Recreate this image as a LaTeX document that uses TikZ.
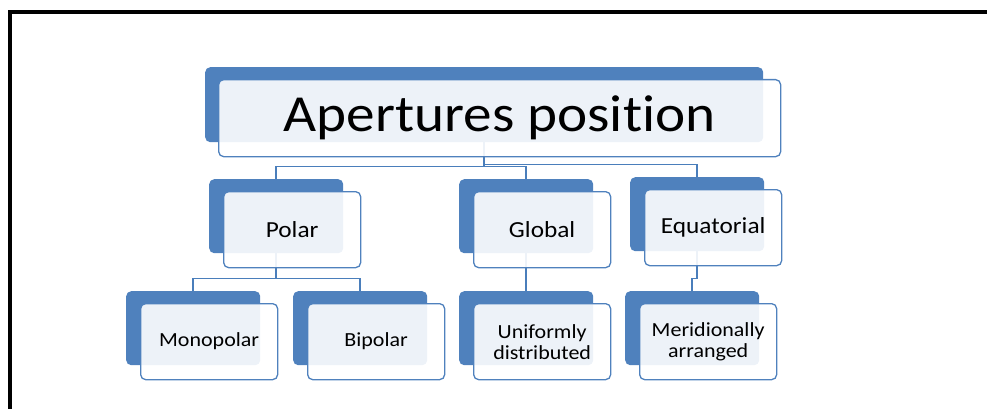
\documentclass[tikz,border=0pt]{standalone}
\usepackage{fontspec}
\setmainfont[FakeStretch=1.1, Ligatures={NoCommon,NoContextual},
  Contextuals=NoAlternate]{Carlito}
\definecolor{cardblue}{HTML}{4F81BD}
\definecolor{linkblue}{HTML}{4A7EBB}

\tikzset{
  backcard/.style={fill=cardblue, rounded corners=5pt, anchor=north west,
    inner sep=0pt, minimum width=134pt, minimum height=74pt},
  frontcard/.style={draw=cardblue, line width=1.3pt, fill=white, fill opacity=0.9,
    text opacity=1, rounded corners=5pt, anchor=north west, inner sep=0pt,
    align=center, minimum width=137pt, minimum height=76pt},
  conn/.style={draw=linkblue, line width=1.7pt},
  lvltwo/.style={font=\fontsize{23}{25}\selectfont},
  lvlthree/.style={font=\fontsize{20}{21}\selectfont},
}

\begin{document}
\begin{tikzpicture}[x=1pt,y=-1pt]
\useasboundingbox (0,0) rectangle (987,409);
\clip (0,0) rectangle (987,409);

% frame
\draw[line width=4pt] (9.5,420) -- (9.5,12) -- (1000,12);

% back cards
\node[backcard, minimum width=558pt, minimum height=75pt] (titleb) at (205,67) {};
\foreach \name/\bx/\by in {polar/209/179, global/459/179, equat/630/177,
                          mono/126/291, bip/293/291, unif/459/291, merid/625/291}
  \node[backcard] (\name b) at (\bx,\by) {};

% links
\draw[conn] (titleb.south) -- ++(0,24) -| (polarb.north);
\draw[conn] (titleb.south) -- ++(0,24) -| (globalb.north);
\draw[conn] (titleb.south) -- ++(0,22) -| (equatb.north);
\draw[conn] (polarb.south) -- ++(0,25) -| (monob.north);
\draw[conn] (polarb.south) -- ++(0,25) -| (bipb.north);
\draw[conn] (globalb.south) -- (unifb.north);
\draw[conn] (equatb.south) -- ++(0,27) -| (meridb.north);

% front cards
\node[frontcard, minimum width=562pt, minimum height=77pt,
      font=\fontsize{52}{56}\selectfont] (title) at (218,79) {Apertures position};
\foreach \name/\bx/\by/\txt in {polar/209/179/Polar, global/459/179/Global,
                               equat/630/177/Equatorial}
  \node[frontcard, lvltwo] (\name) at (\bx+14,\by+12) {\txt};
\foreach \name/\bx/\by/\txt in {mono/126/291/Monopolar, bip/293/291/Bipolar,
                               unif/459/291/{Uniformly\\distributed},
                               merid/625/291/{Meridionally\\arranged}}
  \node[frontcard, lvlthree] (\name) at (\bx+14,\by+12) {\txt};
\end{tikzpicture}
\end{document}
